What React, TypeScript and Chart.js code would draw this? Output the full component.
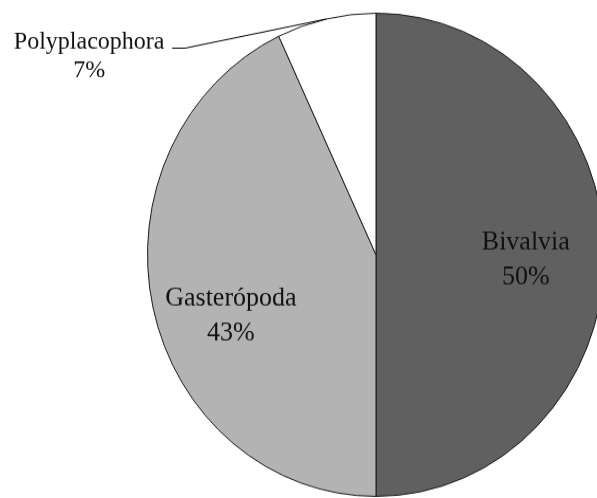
import React, { useEffect, useRef } from "react";
import { Chart, registerables } from "chart.js";

Chart.register(...registerables);

const categories = ["Bivalvia", "Gasterópoda", "Polyplacophora"];
const shares = [50, 43, 7];
const sliceColors = ["#606060", "#b3b3b3", "#ffffff"];

// canvas is drawn at CANVAS_H and stretched vertically to PAGE_H (the reference pie is slightly elliptical)
const CANVAS_W = 620;
const CANVAS_H = 471;
const PAGE_W = 597;
const PAGE_H = 498;

const INNER_FONT = "26px 'Liberation Serif'";
const OUTER_FONT = "24px 'Liberation Serif'";

// label placement tweaks: [radius fraction, angle shift (rad)] for inside labels
const innerPlacement: Record<number, [number, number]> = {
  0: [0.656, 0.028],
  1: [0.684, -0.161],
};

const labelPlugin = {
  id: "pieLabels",
  afterDatasetsDraw(chart: any) {
    const ctx = chart.ctx as CanvasRenderingContext2D;
    const meta = chart.getDatasetMeta(0);
    const total = shares.reduce((a, b) => a + b, 0);
    ctx.save();
    ctx.fillStyle = "#111";
    ctx.textAlign = "center";
    ctx.textBaseline = "middle";
    meta.data.forEach((arc: any, i: number) => {
      const { x, y, startAngle, endAngle, outerRadius } = arc.getProps(
        ["x", "y", "startAngle", "endAngle", "outerRadius"],
        true
      );
      const mid = (startAngle + endAngle) / 2;
      const pct = Math.round((shares[i] / total) * 100) + "%";
      const place = innerPlacement[i];
      if (place) {
        const r = outerRadius * place[0];
        const a = mid + place[1];
        const lx = x + Math.cos(a) * r;
        const ly = y + Math.sin(a) * r;
        ctx.font = INNER_FONT;
        ctx.fillText(categories[i], lx, ly - 16.5);
        ctx.fillText(pct, lx, ly + 16.5);
      } else {
        // outside label with leader line
        const px = x + Math.cos(mid) * outerRadius;
        const py = y + Math.sin(mid) * outerRadius;
        const ex = px - 141;
        const ey = py + 27.5;
        ctx.strokeStyle = "#000";
        ctx.lineWidth = 1;
        ctx.beginPath();
        ctx.moveTo(px, py);
        ctx.lineTo(ex, ey);
        ctx.lineTo(ex - 13, ey);
        ctx.stroke();
        ctx.font = OUTER_FONT;
        const tx = ex - 96;
        ctx.fillText(categories[i], tx, ey - 6);
        ctx.fillText(pct, tx, ey + 21.3);
      }
    });
    ctx.restore();
  },
};

export default function App() {
  const canvasRef = useRef<HTMLCanvasElement | null>(null);

  useEffect(() => {
    document.body.style.margin = "0";
    const canvas = canvasRef.current;
    if (!canvas) return;
    const chart = new Chart(canvas, {
      type: "pie",
      data: {
        labels: categories,
        datasets: [
          {
            data: shares,
            backgroundColor: sliceColors,
            borderColor: "#1a1a1a",
            borderWidth: 1,
          },
        ],
      },
      options: {
        responsive: false,
        animation: false,
        devicePixelRatio: 1,
        layout: { padding: { left: 147, right: 15, top: 12, bottom: 1 } },
        plugins: {
          legend: { display: false },
          tooltip: { enabled: false },
        },
      },
      plugins: [labelPlugin],
    });
    return () => chart.destroy();
  }, []);

  return (
    <div
      style={{
        position: "relative",
        width: PAGE_W,
        height: PAGE_H,
        overflow: "hidden",
        background: "#fff",
      }}
    >
      <canvas
        ref={canvasRef}
        width={CANVAS_W}
        height={CANVAS_H}
        style={{
          position: "absolute",
          left: 0,
          top: 0,
          width: CANVAS_W + "px",
          height: PAGE_H + "px",
        }}
      />
    </div>
  );
}
